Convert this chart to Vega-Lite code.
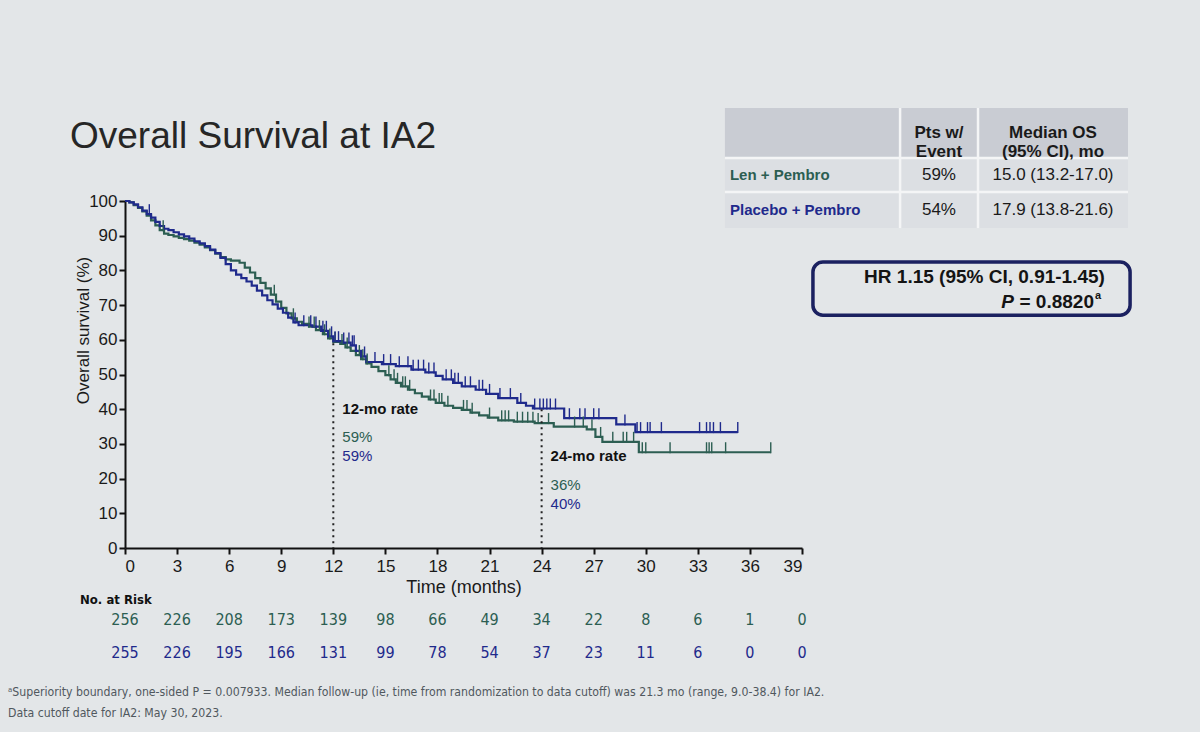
{
  "$schema": "https://vega.github.io/schema/vega-lite/v6.json",
  "width": 677,
  "height": 347,
  "autosize": {"type": "none"},
  "padding": {"left": 125, "top": 201, "right": 398, "bottom": 184},
  "background": "#e3e6e8",
  "config": {
    "view": {"stroke": null},
    "font": "Liberation Sans",
    "axis": {
      "domainColor": "#111111", "domainWidth": 2, "tickColor": "#111111", "tickWidth": 2, "tickSize": 6,
      "labelFont": "Liberation Sans", "labelFontSize": 17, "labelColor": "#1a1a1a", "labelOverlap": false,
      "titleFont": "Liberation Sans", "titleFontSize": 18, "titleFontWeight": "normal", "titleColor": "#1a1a1a",
      "grid": false
    }
  },
  "datasets": {
    "km": [
      {"arm":"Len + Pembro","month":0,"surv":100},{"arm":"Len + Pembro","month":0.25,"surv":99.6},{"arm":"Len + Pembro","month":0.5,"surv":98.8},{"arm":"Len + Pembro","month":0.75,"surv":98.0},{"arm":"Len + Pembro","month":1.0,"surv":97.0},{"arm":"Len + Pembro","month":1.25,"surv":95.8},{"arm":"Len + Pembro","month":1.5,"surv":94.4},{"arm":"Len + Pembro","month":1.75,"surv":93.0},{"arm":"Len + Pembro","month":2.0,"surv":91.6},{"arm":"Len + Pembro","month":2.25,"surv":90.6},{"arm":"Len + Pembro","month":2.5,"surv":90.2},{"arm":"Len + Pembro","month":2.8,"surv":89.8},{"arm":"Len + Pembro","month":3.1,"surv":89.4},{"arm":"Len + Pembro","month":3.4,"surv":89.0},{"arm":"Len + Pembro","month":3.7,"surv":88.6},{"arm":"Len + Pembro","month":4.0,"surv":88.0},{"arm":"Len + Pembro","month":4.3,"surv":87.4},{"arm":"Len + Pembro","month":4.6,"surv":86.6},{"arm":"Len + Pembro","month":4.9,"surv":85.8},{"arm":"Len + Pembro","month":5.2,"surv":84.8},{"arm":"Len + Pembro","month":5.5,"surv":83.8},{"arm":"Len + Pembro","month":5.8,"surv":83.2},{"arm":"Len + Pembro","month":6.1,"surv":82.8},{"arm":"Len + Pembro","month":6.6,"surv":82.2},{"arm":"Len + Pembro","month":6.9,"surv":80.8},{"arm":"Len + Pembro","month":7.2,"surv":79.4},{"arm":"Len + Pembro","month":7.5,"surv":77.8},{"arm":"Len + Pembro","month":7.8,"surv":76.4},{"arm":"Len + Pembro","month":8.1,"surv":74.8},{"arm":"Len + Pembro","month":8.4,"surv":73.0},{"arm":"Len + Pembro","month":8.7,"surv":71.0},{"arm":"Len + Pembro","month":9.0,"surv":69.2},{"arm":"Len + Pembro","month":9.3,"surv":67.6},{"arm":"Len + Pembro","month":9.6,"surv":66.2},{"arm":"Len + Pembro","month":9.9,"surv":65.2},{"arm":"Len + Pembro","month":10.2,"surv":64.6},{"arm":"Len + Pembro","month":10.6,"surv":63.8},{"arm":"Len + Pembro","month":11.0,"surv":62.8},{"arm":"Len + Pembro","month":11.4,"surv":61.6},{"arm":"Len + Pembro","month":11.7,"surv":60.4},{"arm":"Len + Pembro","month":12.0,"surv":59.4},{"arm":"Len + Pembro","month":12.4,"surv":58.8},{"arm":"Len + Pembro","month":12.7,"surv":57.8},{"arm":"Len + Pembro","month":13.0,"surv":56.8},{"arm":"Len + Pembro","month":13.3,"surv":55.6},{"arm":"Len + Pembro","month":13.6,"surv":54.4},{"arm":"Len + Pembro","month":13.9,"surv":53.2},{"arm":"Len + Pembro","month":14.2,"surv":52.2},{"arm":"Len + Pembro","month":14.6,"surv":51.0},{"arm":"Len + Pembro","month":15.0,"surv":49.8},{"arm":"Len + Pembro","month":15.3,"surv":48.6},{"arm":"Len + Pembro","month":15.6,"surv":47.6},{"arm":"Len + Pembro","month":15.9,"surv":46.6},{"arm":"Len + Pembro","month":16.3,"surv":45.6},{"arm":"Len + Pembro","month":16.7,"surv":44.6},{"arm":"Len + Pembro","month":17.1,"surv":43.6},{"arm":"Len + Pembro","month":17.5,"surv":42.8},{"arm":"Len + Pembro","month":17.9,"surv":41.8},{"arm":"Len + Pembro","month":18.4,"surv":41.0},{"arm":"Len + Pembro","month":18.9,"surv":40.4},{"arm":"Len + Pembro","month":19.4,"surv":39.8},{"arm":"Len + Pembro","month":19.9,"surv":39.0},{"arm":"Len + Pembro","month":20.4,"surv":38.2},{"arm":"Len + Pembro","month":20.9,"surv":37.6},{"arm":"Len + Pembro","month":21.5,"surv":36.8},{"arm":"Len + Pembro","month":22.4,"surv":36.4},{"arm":"Len + Pembro","month":23.6,"surv":36.0},{"arm":"Len + Pembro","month":24.7,"surv":35.0},{"arm":"Len + Pembro","month":26.6,"surv":34.2},{"arm":"Len + Pembro","month":27.1,"surv":32.0},{"arm":"Len + Pembro","month":27.5,"surv":30.6},{"arm":"Len + Pembro","month":29.6,"surv":27.6},{"arm":"Len + Pembro","month":37.2,"surv":27.6},
      {"arm":"Placebo + Pembro","month":0,"surv":100},{"arm":"Placebo + Pembro","month":0.25,"surv":99.6},{"arm":"Placebo + Pembro","month":0.5,"surv":99.0},{"arm":"Placebo + Pembro","month":0.75,"surv":98.2},{"arm":"Placebo + Pembro","month":1.0,"surv":97.2},{"arm":"Placebo + Pembro","month":1.25,"surv":96.2},{"arm":"Placebo + Pembro","month":1.5,"surv":95.2},{"arm":"Placebo + Pembro","month":1.75,"surv":94.0},{"arm":"Placebo + Pembro","month":2.0,"surv":92.8},{"arm":"Placebo + Pembro","month":2.25,"surv":92.0},{"arm":"Placebo + Pembro","month":2.5,"surv":91.6},{"arm":"Placebo + Pembro","month":2.8,"surv":91.0},{"arm":"Placebo + Pembro","month":3.1,"surv":90.4},{"arm":"Placebo + Pembro","month":3.4,"surv":89.8},{"arm":"Placebo + Pembro","month":3.7,"surv":89.2},{"arm":"Placebo + Pembro","month":4.0,"surv":88.4},{"arm":"Placebo + Pembro","month":4.3,"surv":87.8},{"arm":"Placebo + Pembro","month":4.6,"surv":87.0},{"arm":"Placebo + Pembro","month":4.9,"surv":86.0},{"arm":"Placebo + Pembro","month":5.2,"surv":85.0},{"arm":"Placebo + Pembro","month":5.5,"surv":83.6},{"arm":"Placebo + Pembro","month":5.8,"surv":81.8},{"arm":"Placebo + Pembro","month":6.1,"surv":80.0},{"arm":"Placebo + Pembro","month":6.4,"surv":78.8},{"arm":"Placebo + Pembro","month":6.7,"surv":77.8},{"arm":"Placebo + Pembro","month":7.0,"surv":76.8},{"arm":"Placebo + Pembro","month":7.3,"surv":75.6},{"arm":"Placebo + Pembro","month":7.6,"surv":74.2},{"arm":"Placebo + Pembro","month":7.9,"surv":72.8},{"arm":"Placebo + Pembro","month":8.2,"surv":71.4},{"arm":"Placebo + Pembro","month":8.5,"surv":70.2},{"arm":"Placebo + Pembro","month":8.8,"surv":69.0},{"arm":"Placebo + Pembro","month":9.1,"surv":67.8},{"arm":"Placebo + Pembro","month":9.4,"surv":66.4},{"arm":"Placebo + Pembro","month":9.7,"surv":65.0},{"arm":"Placebo + Pembro","month":10.0,"surv":64.2},{"arm":"Placebo + Pembro","month":10.8,"surv":63.8},{"arm":"Placebo + Pembro","month":11.3,"surv":62.6},{"arm":"Placebo + Pembro","month":11.7,"surv":61.0},{"arm":"Placebo + Pembro","month":12.0,"surv":59.6},{"arm":"Placebo + Pembro","month":12.5,"surv":59.2},{"arm":"Placebo + Pembro","month":13.0,"surv":58.4},{"arm":"Placebo + Pembro","month":13.3,"surv":56.8},{"arm":"Placebo + Pembro","month":13.6,"surv":55.2},{"arm":"Placebo + Pembro","month":13.9,"surv":53.6},{"arm":"Placebo + Pembro","month":14.8,"surv":53.0},{"arm":"Placebo + Pembro","month":15.6,"surv":52.4},{"arm":"Placebo + Pembro","month":16.5,"surv":51.4},{"arm":"Placebo + Pembro","month":17.3,"surv":50.6},{"arm":"Placebo + Pembro","month":17.9,"surv":49.6},{"arm":"Placebo + Pembro","month":18.3,"surv":48.6},{"arm":"Placebo + Pembro","month":18.9,"surv":47.6},{"arm":"Placebo + Pembro","month":19.4,"surv":46.6},{"arm":"Placebo + Pembro","month":20.2,"surv":45.6},{"arm":"Placebo + Pembro","month":20.8,"surv":44.4},{"arm":"Placebo + Pembro","month":21.5,"surv":43.2},{"arm":"Placebo + Pembro","month":22.6,"surv":41.8},{"arm":"Placebo + Pembro","month":23.1,"surv":41.0},{"arm":"Placebo + Pembro","month":23.5,"surv":40.2},{"arm":"Placebo + Pembro","month":25.3,"surv":37.4},{"arm":"Placebo + Pembro","month":28.3,"surv":35.6},{"arm":"Placebo + Pembro","month":29.4,"surv":33.4},{"arm":"Placebo + Pembro","month":35.3,"surv":33.4}
    ],
    "censor": [
      {"arm":"Len + Pembro","month":2.2,"surv":91.6},{"arm":"Len + Pembro","month":8.6,"surv":73.0},{"arm":"Len + Pembro","month":9.7,"surv":66.2},{"arm":"Len + Pembro","month":10.6,"surv":63.8},{"arm":"Len + Pembro","month":10.9,"surv":63.8},{"arm":"Len + Pembro","month":11.2,"surv":62.8},{"arm":"Len + Pembro","month":11.5,"surv":61.6},{"arm":"Len + Pembro","month":11.8,"surv":60.4},{"arm":"Len + Pembro","month":12.1,"surv":59.4},{"arm":"Len + Pembro","month":12.5,"surv":58.8},{"arm":"Len + Pembro","month":12.8,"surv":57.8},{"arm":"Len + Pembro","month":13.5,"surv":55.6},{"arm":"Len + Pembro","month":13.7,"surv":54.4},{"arm":"Len + Pembro","month":13.95,"surv":53.2},{"arm":"Len + Pembro","month":15.2,"surv":49.8},{"arm":"Len + Pembro","month":15.5,"surv":48.6},{"arm":"Len + Pembro","month":15.7,"surv":47.6},{"arm":"Len + Pembro","month":16.0,"surv":46.6},{"arm":"Len + Pembro","month":16.15,"surv":46.6},{"arm":"Len + Pembro","month":16.4,"surv":45.6},{"arm":"Len + Pembro","month":17.6,"surv":42.8},{"arm":"Len + Pembro","month":17.8,"surv":42.8},{"arm":"Len + Pembro","month":18.1,"surv":41.8},{"arm":"Len + Pembro","month":18.25,"surv":41.8},{"arm":"Len + Pembro","month":18.6,"surv":41.0},{"arm":"Len + Pembro","month":19.5,"surv":39.8},{"arm":"Len + Pembro","month":19.7,"surv":39.8},{"arm":"Len + Pembro","month":20.0,"surv":39.0},{"arm":"Len + Pembro","month":21.0,"surv":37.6},{"arm":"Len + Pembro","month":21.7,"surv":36.8},{"arm":"Len + Pembro","month":21.9,"surv":36.8},{"arm":"Len + Pembro","month":22.1,"surv":36.8},{"arm":"Len + Pembro","month":22.6,"surv":36.4},{"arm":"Len + Pembro","month":22.9,"surv":36.4},{"arm":"Len + Pembro","month":23.2,"surv":36.4},{"arm":"Len + Pembro","month":23.5,"surv":36.4},{"arm":"Len + Pembro","month":23.8,"surv":36.0},{"arm":"Len + Pembro","month":24.4,"surv":36.0},{"arm":"Len + Pembro","month":25.9,"surv":35.0},{"arm":"Len + Pembro","month":26.4,"surv":35.0},{"arm":"Len + Pembro","month":26.9,"surv":34.2},{"arm":"Len + Pembro","month":27.4,"surv":32.0},{"arm":"Len + Pembro","month":28.1,"surv":30.6},{"arm":"Len + Pembro","month":28.7,"surv":30.6},{"arm":"Len + Pembro","month":28.9,"surv":30.6},{"arm":"Len + Pembro","month":29.3,"surv":30.6},{"arm":"Len + Pembro","month":29.8,"surv":27.6},{"arm":"Len + Pembro","month":30.0,"surv":27.6},{"arm":"Len + Pembro","month":31.4,"surv":27.6},{"arm":"Len + Pembro","month":33.5,"surv":27.6},{"arm":"Len + Pembro","month":33.65,"surv":27.6},{"arm":"Len + Pembro","month":33.8,"surv":27.6},{"arm":"Len + Pembro","month":34.6,"surv":27.6},{"arm":"Len + Pembro","month":37.2,"surv":27.6},
      {"arm":"Placebo + Pembro","month":1.4,"surv":96.2},{"arm":"Placebo + Pembro","month":9.8,"surv":65.0},{"arm":"Placebo + Pembro","month":10.3,"surv":64.2},{"arm":"Placebo + Pembro","month":10.7,"surv":64.2},{"arm":"Placebo + Pembro","month":11.0,"surv":63.8},{"arm":"Placebo + Pembro","month":11.4,"surv":62.6},{"arm":"Placebo + Pembro","month":11.6,"surv":62.6},{"arm":"Placebo + Pembro","month":11.9,"surv":61.0},{"arm":"Placebo + Pembro","month":12.1,"surv":59.6},{"arm":"Placebo + Pembro","month":12.3,"surv":59.6},{"arm":"Placebo + Pembro","month":12.6,"surv":59.2},{"arm":"Placebo + Pembro","month":12.9,"surv":59.2},{"arm":"Placebo + Pembro","month":13.1,"surv":58.4},{"arm":"Placebo + Pembro","month":13.2,"surv":58.4},{"arm":"Placebo + Pembro","month":13.8,"surv":55.2},{"arm":"Placebo + Pembro","month":14.4,"surv":53.6},{"arm":"Placebo + Pembro","month":14.9,"surv":53.0},{"arm":"Placebo + Pembro","month":15.3,"surv":53.0},{"arm":"Placebo + Pembro","month":15.8,"surv":52.4},{"arm":"Placebo + Pembro","month":16.3,"surv":52.4},{"arm":"Placebo + Pembro","month":16.6,"surv":51.4},{"arm":"Placebo + Pembro","month":16.9,"surv":51.4},{"arm":"Placebo + Pembro","month":17.2,"surv":51.4},{"arm":"Placebo + Pembro","month":17.5,"surv":50.6},{"arm":"Placebo + Pembro","month":17.8,"surv":50.6},{"arm":"Placebo + Pembro","month":18.5,"surv":48.6},{"arm":"Placebo + Pembro","month":18.8,"surv":48.6},{"arm":"Placebo + Pembro","month":19.0,"surv":47.6},{"arm":"Placebo + Pembro","month":19.2,"surv":47.6},{"arm":"Placebo + Pembro","month":19.6,"surv":46.6},{"arm":"Placebo + Pembro","month":19.9,"surv":46.6},{"arm":"Placebo + Pembro","month":20.4,"surv":45.6},{"arm":"Placebo + Pembro","month":20.6,"surv":45.6},{"arm":"Placebo + Pembro","month":21.0,"surv":44.4},{"arm":"Placebo + Pembro","month":21.6,"surv":43.2},{"arm":"Placebo + Pembro","month":22.2,"surv":43.2},{"arm":"Placebo + Pembro","month":22.8,"surv":41.8},{"arm":"Placebo + Pembro","month":23.6,"surv":40.2},{"arm":"Placebo + Pembro","month":23.9,"surv":40.2},{"arm":"Placebo + Pembro","month":24.1,"surv":40.2},{"arm":"Placebo + Pembro","month":24.3,"surv":40.2},{"arm":"Placebo + Pembro","month":24.5,"surv":40.2},{"arm":"Placebo + Pembro","month":24.8,"surv":40.2},{"arm":"Placebo + Pembro","month":25.6,"surv":37.4},{"arm":"Placebo + Pembro","month":26.2,"surv":37.4},{"arm":"Placebo + Pembro","month":26.5,"surv":37.4},{"arm":"Placebo + Pembro","month":27.0,"surv":37.4},{"arm":"Placebo + Pembro","month":27.3,"surv":37.4},{"arm":"Placebo + Pembro","month":28.8,"surv":35.6},{"arm":"Placebo + Pembro","month":29.5,"surv":33.4},{"arm":"Placebo + Pembro","month":29.7,"surv":33.4},{"arm":"Placebo + Pembro","month":30.1,"surv":33.4},{"arm":"Placebo + Pembro","month":30.25,"surv":33.4},{"arm":"Placebo + Pembro","month":30.9,"surv":33.4},{"arm":"Placebo + Pembro","month":33.1,"surv":33.4},{"arm":"Placebo + Pembro","month":33.5,"surv":33.4},{"arm":"Placebo + Pembro","month":33.7,"surv":33.4},{"arm":"Placebo + Pembro","month":33.9,"surv":33.4},{"arm":"Placebo + Pembro","month":34.3,"surv":33.4},{"arm":"Placebo + Pembro","month":35.3,"surv":33.4}
    ],
    "risk": [
      {"arm":"Len + Pembro","month":0,"n":256},{"arm":"Len + Pembro","month":3,"n":226},{"arm":"Len + Pembro","month":6,"n":208},{"arm":"Len + Pembro","month":9,"n":173},{"arm":"Len + Pembro","month":12,"n":139},{"arm":"Len + Pembro","month":15,"n":98},{"arm":"Len + Pembro","month":18,"n":66},{"arm":"Len + Pembro","month":21,"n":49},{"arm":"Len + Pembro","month":24,"n":34},{"arm":"Len + Pembro","month":27,"n":22},{"arm":"Len + Pembro","month":30,"n":8},{"arm":"Len + Pembro","month":33,"n":6},{"arm":"Len + Pembro","month":36,"n":1},{"arm":"Len + Pembro","month":39,"n":0},
      {"arm":"Placebo + Pembro","month":0,"n":255},{"arm":"Placebo + Pembro","month":3,"n":226},{"arm":"Placebo + Pembro","month":6,"n":195},{"arm":"Placebo + Pembro","month":9,"n":166},{"arm":"Placebo + Pembro","month":12,"n":131},{"arm":"Placebo + Pembro","month":15,"n":99},{"arm":"Placebo + Pembro","month":18,"n":78},{"arm":"Placebo + Pembro","month":21,"n":54},{"arm":"Placebo + Pembro","month":24,"n":37},{"arm":"Placebo + Pembro","month":27,"n":23},{"arm":"Placebo + Pembro","month":30,"n":11},{"arm":"Placebo + Pembro","month":33,"n":6},{"arm":"Placebo + Pembro","month":36,"n":0},{"arm":"Placebo + Pembro","month":39,"n":0}
    ],
    "landmarks": [{"month":12,"top":59},{"month":24,"top":40}],
    "rates": [
      {"landmark":12,"arm":"Len + Pembro","rate":"59%"},{"landmark":12,"arm":"Placebo + Pembro","rate":"59%"},
      {"landmark":24,"arm":"Len + Pembro","rate":"36%"},{"landmark":24,"arm":"Placebo + Pembro","rate":"40%"}
    ],
    "summary": [
      {"arm":"Len + Pembro","events":"59%","median":"15.0 (13.2-17.0)"},
      {"arm":"Placebo + Pembro","events":"54%","median":"17.9 (13.8-21.6)"}
    ]
  },
  "layer": [
    {
      "data": {"name": "km"},
      "mark": {"type": "line", "interpolate": "step-after", "strokeWidth": 2.2},
      "encoding": {
        "x": {"field": "month", "type": "quantitative",
              "scale": {"domain": [0, 39], "nice": false, "zero": false},
              "axis": {"values": [0,3,6,9,12,15,18,21,24,27,30,33,36,39], "title": "Time (months)", "labelPadding": 4, "titlePadding": 4}},
        "y": {"field": "surv", "type": "quantitative",
              "scale": {"domain": [0, 100], "nice": false},
              "axis": {"values": [0,10,20,30,40,50,60,70,80,90,100], "labelOverlap": false, "title": "Overall survival (%)", "labelPadding": 2, "titleX": -33, "titleY": 129, "titleFontSize": 17}},
        "color": {"field": "arm", "type": "nominal",
                  "scale": {"domain": ["Len + Pembro", "Placebo + Pembro"], "range": ["#2c5e52", "#1f2a8c"]},
                  "legend": null}
      }
    },
    {
      "data": {"name": "censor"},
      "mark": {"type": "tick", "orient": "vertical", "size": 11, "thickness": 1.4, "yOffset": -4.5, "opacity": 1},
      "encoding": {
        "x": {"field": "month", "type": "quantitative"},
        "y": {"field": "surv", "type": "quantitative", "axis": {"values": [0,10,20,30,40,50,60,70,80,90,100]}},
        "color": {"field": "arm", "type": "nominal"}
      }
    },
    {
      "data": {"name": "landmarks"},
      "mark": {"type": "rule", "strokeDash": [2, 4], "strokeWidth": 2, "color": "#222222"},
      "encoding": {
        "x": {"field": "month", "type": "quantitative"},
        "y": {"field": "top", "type": "quantitative", "axis": {"values": [0,10,20,30,40,50,60,70,80,90,100]}},
        "y2": {"datum": 0}
      }
    },
    {
      "data": {"values": [{"t": "12-mo rate"}]},
      "mark": {"type": "text", "align": "left", "baseline": "middle", "fontSize": 15, "fontWeight": "bold", "color": "#111111", "dx": 9},
      "encoding": {"x": {"datum": 12, "type": "quantitative"}, "y": {"datum": 40, "type": "quantitative", "axis": {"values": [0,10,20,30,40,50,60,70,80,90,100]}}, "text": {"field": "t", "type": "nominal"}}
    },
    {
      "data": {"values": [{"t": "24-mo rate"}]},
      "mark": {"type": "text", "align": "left", "baseline": "middle", "fontSize": 15, "fontWeight": "bold", "color": "#111111", "dx": 9},
      "encoding": {"x": {"datum": 24, "type": "quantitative"}, "y": {"datum": 26.5, "type": "quantitative", "axis": {"values": [0,10,20,30,40,50,60,70,80,90,100]}}, "text": {"field": "t", "type": "nominal"}}
    },
    {
      "data": {"name": "rates"},
      "transform": [{"filter": "datum.landmark == 12 && datum.arm == 'Len + Pembro'"}],
      "mark": {"type": "text", "align": "left", "baseline": "middle", "fontSize": 15, "dx": 9},
      "encoding": {"x": {"field": "landmark", "type": "quantitative"}, "y": {"datum": 32, "type": "quantitative", "axis": {"values": [0,10,20,30,40,50,60,70,80,90,100]}}, "text": {"field": "rate", "type": "nominal"}, "color": {"field": "arm", "type": "nominal"}}
    },
    {
      "data": {"name": "rates"},
      "transform": [{"filter": "datum.landmark == 12 && datum.arm == 'Placebo + Pembro'"}],
      "mark": {"type": "text", "align": "left", "baseline": "middle", "fontSize": 15, "dx": 9},
      "encoding": {"x": {"field": "landmark", "type": "quantitative"}, "y": {"datum": 26.5, "type": "quantitative", "axis": {"values": [0,10,20,30,40,50,60,70,80,90,100]}}, "text": {"field": "rate", "type": "nominal"}, "color": {"field": "arm", "type": "nominal"}}
    },
    {
      "data": {"name": "rates"},
      "transform": [{"filter": "datum.landmark == 24 && datum.arm == 'Len + Pembro'"}],
      "mark": {"type": "text", "align": "left", "baseline": "middle", "fontSize": 15, "dx": 9},
      "encoding": {"x": {"field": "landmark", "type": "quantitative"}, "y": {"datum": 18.2, "type": "quantitative", "axis": {"values": [0,10,20,30,40,50,60,70,80,90,100]}}, "text": {"field": "rate", "type": "nominal"}, "color": {"field": "arm", "type": "nominal"}}
    },
    {
      "data": {"name": "rates"},
      "transform": [{"filter": "datum.landmark == 24 && datum.arm == 'Placebo + Pembro'"}],
      "mark": {"type": "text", "align": "left", "baseline": "middle", "fontSize": 15, "dx": 9},
      "encoding": {"x": {"field": "landmark", "type": "quantitative"}, "y": {"datum": 12.8, "type": "quantitative", "axis": {"values": [0,10,20,30,40,50,60,70,80,90,100]}}, "text": {"field": "rate", "type": "nominal"}, "color": {"field": "arm", "type": "nominal"}}
    },
    {
      "data": {"values": [{"t": "No. at Risk"}]},
      "mark": {"type": "text", "align": "left", "baseline": "middle", "fontSize": 13, "fontWeight": "bold", "color": "#111111", "font": "DejaVu Sans Condensed, Liberation Sans"},
      "encoding": {"x": {"datum": -2.59, "type": "quantitative"}, "y": {"datum": -15.0, "type": "quantitative", "axis": {"values": [0,10,20,30,40,50,60,70,80,90,100]}}, "text": {"field": "t", "type": "nominal"}}
    },
    {
      "data": {"name": "risk"},
      "transform": [{"filter": "datum.arm == 'Len + Pembro'"}],
      "mark": {"type": "text", "align": "center", "baseline": "middle", "fontSize": 16, "font": "DejaVu Sans Condensed, Liberation Sans"},
      "encoding": {"x": {"field": "month", "type": "quantitative"}, "y": {"datum": -20.75, "type": "quantitative", "axis": {"values": [0,10,20,30,40,50,60,70,80,90,100]}}, "text": {"field": "n", "type": "quantitative"}, "color": {"field": "arm", "type": "nominal"}}
    },
    {
      "data": {"name": "risk"},
      "transform": [{"filter": "datum.arm == 'Placebo + Pembro'"}],
      "mark": {"type": "text", "align": "center", "baseline": "middle", "fontSize": 16, "font": "DejaVu Sans Condensed, Liberation Sans"},
      "encoding": {"x": {"field": "month", "type": "quantitative"}, "y": {"datum": -30.3, "type": "quantitative", "axis": {"values": [0,10,20,30,40,50,60,70,80,90,100]}}, "text": {"field": "n", "type": "quantitative"}, "color": {"field": "arm", "type": "nominal"}}
    },
    {
      "data": {"values": [{"t": "ᵃSuperiority boundary, one-sided P = 0.007933. Median follow-up (ie, time from randomization to data cutoff) was 21.3 mo (range, 9.0-38.4) for IA2.\nData cutoff date for IA2: May 30, 2023."}]},
      "mark": {"type": "text", "align": "left", "baseline": "alphabetic", "fontSize": 12.2, "lineBreak": "\n", "lineHeight": 21, "color": "#50585e", "font": "DejaVu Sans Condensed, Liberation Sans"},
      "encoding": {"x": {"datum": -6.74, "type": "quantitative"}, "y": {"datum": -42.65, "type": "quantitative", "axis": {"values": [0,10,20,30,40,50,60,70,80,90,100]}}, "text": {"field": "t", "type": "nominal"}}
    },
    {
      "data": {"values": [{"t": "Overall Survival at IA2"}]},
      "mark": {"type": "text", "align": "left", "baseline": "alphabetic", "fontSize": 37, "color": "#262626"},
      "encoding": {"x": {"datum": -3.17, "type": "quantitative"}, "y": {"datum": 115.3, "type": "quantitative", "axis": {"values": [0,10,20,30,40,50,60,70,80,90,100]}}, "text": {"field": "t", "type": "nominal"}}
    },
    {
      "data": {"values": [{"part": "header"}]},
      "mark": {"type": "rect", "color": "#c9ccd3"},
      "encoding": {"x": {"datum": 34.56, "type": "quantitative"}, "x2": {"datum": 57.78}, "y": {"datum": 126.8, "type": "quantitative", "axis": {"values": [0,10,20,30,40,50,60,70,80,90,100]}}, "y2": {"datum": 112.4}}
    },
    {
      "data": {"values": [{"part": "body"}]},
      "mark": {"type": "rect", "color": "#dcdfe3"},
      "encoding": {"x": {"datum": 34.56, "type": "quantitative"}, "x2": {"datum": 57.78}, "y": {"datum": 112.4, "type": "quantitative", "axis": {"values": [0,10,20,30,40,50,60,70,80,90,100]}}, "y2": {"datum": 92.2}}
    },
    {
      "data": {"values": [{"part": "sep"}]},
      "mark": {"type": "rule", "color": "#f4f5f6", "strokeWidth": 2.5},
      "encoding": {"x": {"datum": 44.65, "type": "quantitative"}, "y": {"datum": 92.2, "type": "quantitative", "axis": {"values": [0,10,20,30,40,50,60,70,80,90,100]}}, "y2": {"datum": 126.8}}
    },
    {
      "data": {"values": [{"part": "sep"}]},
      "mark": {"type": "rule", "color": "#f4f5f6", "strokeWidth": 2.5},
      "encoding": {"x": {"datum": 49.14, "type": "quantitative"}, "y": {"datum": 92.2, "type": "quantitative", "axis": {"values": [0,10,20,30,40,50,60,70,80,90,100]}}, "y2": {"datum": 126.8}}
    },
    {
      "data": {"values": [{"part": "sep"}]},
      "mark": {"type": "rule", "color": "#f4f5f6", "strokeWidth": 2.5},
      "encoding": {"x": {"datum": 34.56, "type": "quantitative"}, "x2": {"datum": 57.78}, "y": {"datum": 112.4, "type": "quantitative", "axis": {"values": [0,10,20,30,40,50,60,70,80,90,100]}}}
    },
    {
      "data": {"values": [{"part": "sep"}]},
      "mark": {"type": "rule", "color": "#f4f5f6", "strokeWidth": 2.5},
      "encoding": {"x": {"datum": 34.56, "type": "quantitative"}, "x2": {"datum": 57.78}, "y": {"datum": 102.6, "type": "quantitative", "axis": {"values": [0,10,20,30,40,50,60,70,80,90,100]}}}
    },
    {
      "data": {"values": [{"t": "Pts w/\nEvent"}]},
      "mark": {"type": "text", "align": "center", "baseline": "middle", "fontSize": 17, "fontWeight": "bold", "lineBreak": "\n", "lineHeight": 19, "color": "#1a1a1a"},
      "encoding": {"x": {"datum": 46.89, "type": "quantitative"}, "y": {"datum": 119.6, "type": "quantitative", "axis": {"values": [0,10,20,30,40,50,60,70,80,90,100]}}, "text": {"field": "t", "type": "nominal"}}
    },
    {
      "data": {"values": [{"t": "Median OS\n(95% CI), mo"}]},
      "mark": {"type": "text", "align": "center", "baseline": "middle", "fontSize": 17, "fontWeight": "bold", "lineBreak": "\n", "lineHeight": 19, "color": "#1a1a1a"},
      "encoding": {"x": {"datum": 53.46, "type": "quantitative"}, "y": {"datum": 119.6, "type": "quantitative", "axis": {"values": [0,10,20,30,40,50,60,70,80,90,100]}}, "text": {"field": "t", "type": "nominal"}}
    },
    {
      "data": {"name": "summary"},
      "transform": [{"filter": "datum.arm == 'Len + Pembro'"}],
      "mark": {"type": "text", "align": "left", "baseline": "middle", "fontSize": 15, "fontWeight": "bold"},
      "encoding": {"x": {"datum": 34.85, "type": "quantitative"}, "y": {"datum": 107.5, "type": "quantitative", "axis": {"values": [0,10,20,30,40,50,60,70,80,90,100]}}, "text": {"field": "arm", "type": "nominal"}, "color": {"field": "arm", "type": "nominal"}}
    },
    {
      "data": {"name": "summary"},
      "transform": [{"filter": "datum.arm == 'Placebo + Pembro'"}],
      "mark": {"type": "text", "align": "left", "baseline": "middle", "fontSize": 15, "fontWeight": "bold"},
      "encoding": {"x": {"datum": 34.85, "type": "quantitative"}, "y": {"datum": 97.4, "type": "quantitative", "axis": {"values": [0,10,20,30,40,50,60,70,80,90,100]}}, "text": {"field": "arm", "type": "nominal"}, "color": {"field": "arm", "type": "nominal"}}
    },
    {
      "data": {"name": "summary"},
      "transform": [{"filter": "datum.arm == 'Len + Pembro'"}],
      "mark": {"type": "text", "align": "center", "baseline": "middle", "fontSize": 17, "color": "#1a1a1a"},
      "encoding": {"x": {"datum": 46.89, "type": "quantitative"}, "y": {"datum": 107.5, "type": "quantitative", "axis": {"values": [0,10,20,30,40,50,60,70,80,90,100]}}, "text": {"field": "events", "type": "nominal"}}
    },
    {
      "data": {"name": "summary"},
      "transform": [{"filter": "datum.arm == 'Placebo + Pembro'"}],
      "mark": {"type": "text", "align": "center", "baseline": "middle", "fontSize": 17, "color": "#1a1a1a"},
      "encoding": {"x": {"datum": 46.89, "type": "quantitative"}, "y": {"datum": 97.4, "type": "quantitative", "axis": {"values": [0,10,20,30,40,50,60,70,80,90,100]}}, "text": {"field": "events", "type": "nominal"}}
    },
    {
      "data": {"name": "summary"},
      "transform": [{"filter": "datum.arm == 'Len + Pembro'"}],
      "mark": {"type": "text", "align": "center", "baseline": "middle", "fontSize": 17, "color": "#1a1a1a"},
      "encoding": {"x": {"datum": 53.46, "type": "quantitative"}, "y": {"datum": 107.5, "type": "quantitative", "axis": {"values": [0,10,20,30,40,50,60,70,80,90,100]}}, "text": {"field": "median", "type": "nominal"}}
    },
    {
      "data": {"name": "summary"},
      "transform": [{"filter": "datum.arm == 'Placebo + Pembro'"}],
      "mark": {"type": "text", "align": "center", "baseline": "middle", "fontSize": 17, "color": "#1a1a1a"},
      "encoding": {"x": {"datum": 53.46, "type": "quantitative"}, "y": {"datum": 97.4, "type": "quantitative", "axis": {"values": [0,10,20,30,40,50,60,70,80,90,100]}}, "text": {"field": "median", "type": "nominal"}}
    },
    {
      "data": {"values": [{"part": "hrbox"}]},
      "mark": {"type": "rect", "fill": "#e3e6e8", "stroke": "#1b2160", "strokeWidth": 3.5, "cornerRadius": 10},
      "encoding": {"x": {"datum": 39.63, "type": "quantitative"}, "x2": {"datum": 57.9}, "y": {"datum": 82.4, "type": "quantitative", "axis": {"values": [0,10,20,30,40,50,60,70,80,90,100]}}, "y2": {"datum": 67.1}}
    },
    {
      "data": {"values": [{"t": "HR 1.15 (95% CI, 0.91-1.45)"}]},
      "mark": {"type": "text", "align": "right", "baseline": "middle", "fontSize": 19, "fontWeight": "bold", "color": "#141414"},
      "encoding": {"x": {"datum": 56.45, "type": "quantitative"}, "y": {"datum": 78.0, "type": "quantitative", "axis": {"values": [0,10,20,30,40,50,60,70,80,90,100]}}, "text": {"field": "t", "type": "nominal"}}
    },
    {
      "data": {"values": [{"t": "= 0.8820"}]},
      "mark": {"type": "text", "align": "right", "baseline": "middle", "fontSize": 19, "fontWeight": "bold", "color": "#141414"},
      "encoding": {"x": {"datum": 55.82, "type": "quantitative"}, "y": {"datum": 71.0, "type": "quantitative", "axis": {"values": [0,10,20,30,40,50,60,70,80,90,100]}}, "text": {"field": "t", "type": "nominal"}}
    },
    {
      "data": {"values": [{"t": "P"}]},
      "mark": {"type": "text", "align": "right", "baseline": "middle", "fontSize": 19, "fontWeight": "bold", "fontStyle": "italic", "color": "#141414", "dx": -80},
      "encoding": {"x": {"datum": 55.82, "type": "quantitative"}, "y": {"datum": 71.0, "type": "quantitative", "axis": {"values": [0,10,20,30,40,50,60,70,80,90,100]}}, "text": {"field": "t", "type": "nominal"}}
    },
    {
      "data": {"values": [{"t": "a"}]},
      "mark": {"type": "text", "align": "left", "baseline": "middle", "fontSize": 11, "fontWeight": "bold", "color": "#141414", "dx": 1, "dy": -6},
      "encoding": {"x": {"datum": 55.82, "type": "quantitative"}, "y": {"datum": 71.0, "type": "quantitative", "axis": {"values": [0,10,20,30,40,50,60,70,80,90,100]}}, "text": {"field": "t", "type": "nominal"}}
    }
  ]
}
